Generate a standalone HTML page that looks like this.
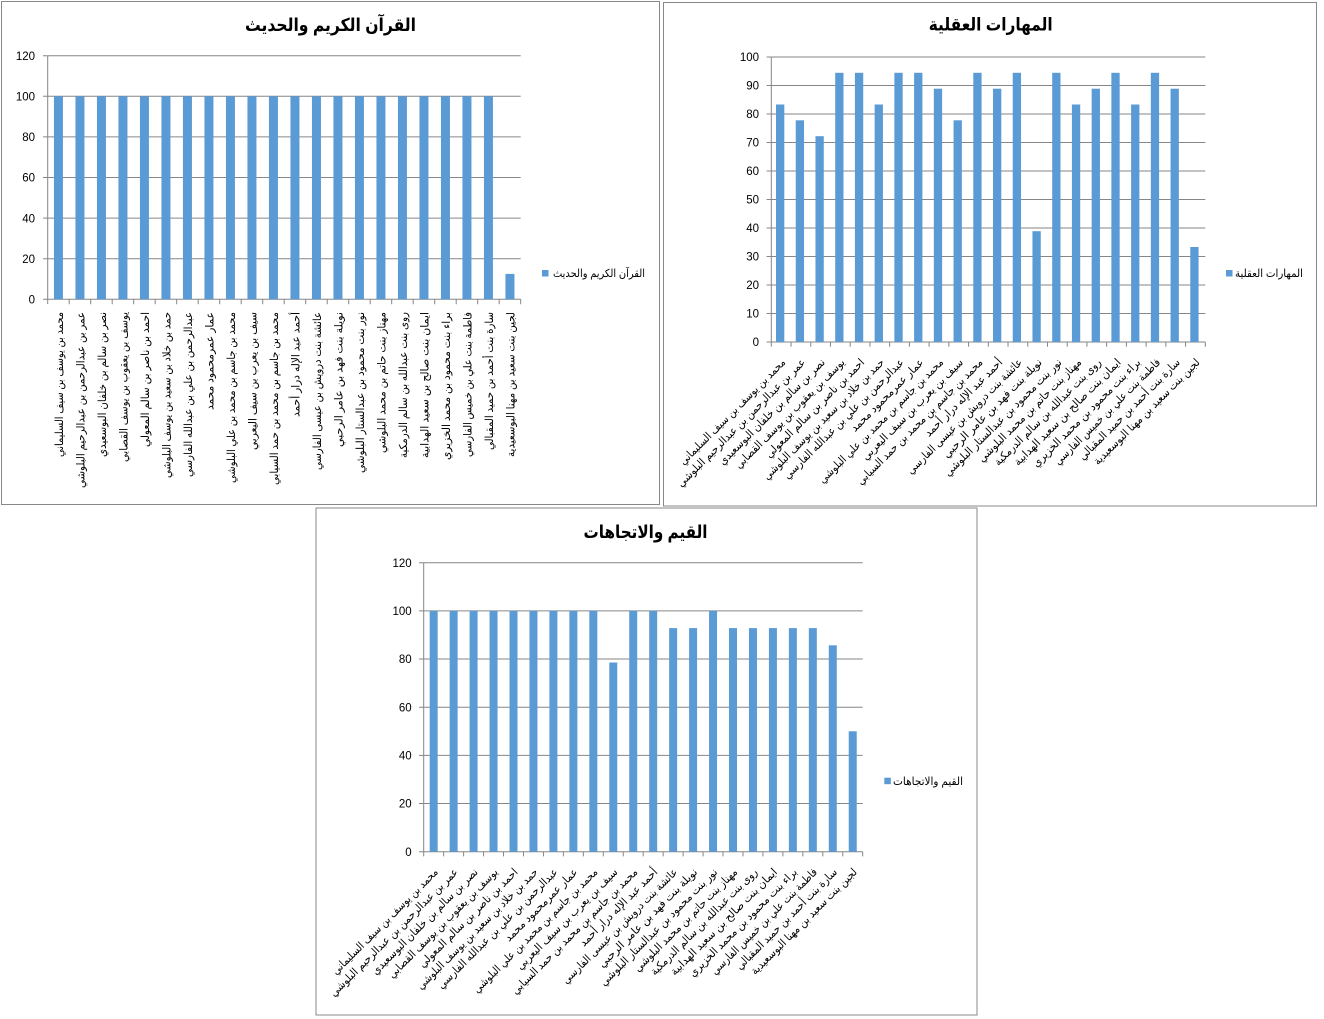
<!DOCTYPE html>
<html><head><meta charset="utf-8">
<style>
html,body{margin:0;padding:0;background:#fff;}
svg{display:block;}
.t{font-family:"Liberation Sans","DejaVu Sans",sans-serif;font-size:11.5px;fill:#000;}
.l{font-family:"Liberation Sans","DejaVu Sans",sans-serif;font-size:11px;fill:#000;}
.h{font-family:"Liberation Sans","DejaVu Sans",sans-serif;font-size:18px;font-weight:bold;fill:#000;}
</style></head>
<body>
<svg width="1324" height="1019" viewBox="0 0 1324 1019" xmlns="http://www.w3.org/2000/svg" direction="ltr">
<rect x="0" y="0" width="1324" height="1019" fill="#fff"/>

<!-- ============ CHART 1 ============ -->
<rect x="1.5" y="1.5" width="658" height="503" fill="#fff" stroke="#888" stroke-width="1"/>
<text class="h" x="330.5" y="31" text-anchor="middle" textLength="171" lengthAdjust="spacingAndGlyphs">القرآن الكريم والحديث</text>
<g stroke="#868686" stroke-width="1">
<path d="M47.7 299.3H520.7M47.7 258.7H520.7M47.7 218.1H520.7M47.7 177.5H520.7M47.7 136.9H520.7M47.7 96.3H520.7M47.7 55.7H520.7"/>
<path d="M47.7 55.7V304M43 299.3H47.7M43 258.7H47.7M43 218.1H47.7M43 177.5H47.7M43 136.9H47.7M43 96.3H47.7M43 55.7H47.7"/>
<path d="M69.2 299.3v5M90.7 299.3v5M112.2 299.3v5M133.7 299.3v5M155.2 299.3v5M176.7 299.3v5M198.2 299.3v5M219.7 299.3v5M241.2 299.3v5M262.7 299.3v5M284.2 299.3v5M305.7 299.3v5M327.2 299.3v5M348.7 299.3v5M370.2 299.3v5M391.7 299.3v5M413.2 299.3v5M434.7 299.3v5M456.2 299.3v5M477.7 299.3v5M499.2 299.3v5M520.7 299.3v5"/>
</g>
<g class="t" text-anchor="end">
<text x="35" y="303.5">0</text><text x="35" y="262.9">20</text><text x="35" y="222.3">40</text><text x="35" y="181.7">60</text><text x="35" y="141.1">80</text><text x="35" y="100.5">100</text><text x="35" y="59.9">120</text>
</g>
<g fill="#5B9BD5">
<rect x="53.95" y="96.3" width="9" height="203"/><rect x="75.45" y="96.3" width="9" height="203"/><rect x="96.95" y="96.3" width="9" height="203"/><rect x="118.45" y="96.3" width="9" height="203"/><rect x="139.95" y="96.3" width="9" height="203"/><rect x="161.45" y="96.3" width="9" height="203"/><rect x="182.95" y="96.3" width="9" height="203"/><rect x="204.45" y="96.3" width="9" height="203"/><rect x="225.95" y="96.3" width="9" height="203"/><rect x="247.45" y="96.3" width="9" height="203"/><rect x="268.95" y="96.3" width="9" height="203"/><rect x="290.45" y="96.3" width="9" height="203"/><rect x="311.95" y="96.3" width="9" height="203"/><rect x="333.45" y="96.3" width="9" height="203"/><rect x="354.95" y="96.3" width="9" height="203"/><rect x="376.45" y="96.3" width="9" height="203"/><rect x="397.95" y="96.3" width="9" height="203"/><rect x="419.45" y="96.3" width="9" height="203"/><rect x="440.95" y="96.3" width="9" height="203"/><rect x="462.45" y="96.3" width="9" height="203"/><rect x="483.95" y="96.3" width="9" height="203"/><rect x="505.45" y="273.9" width="9" height="25.4"/>
</g>
<rect x="542" y="270" width="6.5" height="6.5" fill="#5B9BD5"/>
<text class="l" x="645" y="277" text-anchor="end" textLength="92" lengthAdjust="spacingAndGlyphs">القرآن الكريم والحديث</text>
<g class="l" text-anchor="end">
<text x="62.95" y="312" transform="rotate(-90 62.95 312)" textLength="145" lengthAdjust="spacingAndGlyphs">محمد بن يوسف بن سيف  السليماني</text>
<text x="84.45" y="312" transform="rotate(-90 84.45 312)" textLength="176" lengthAdjust="spacingAndGlyphs">عمر بن عبدالرحمن بن عبدالرحيم البلوشي</text>
<text x="105.95" y="312" transform="rotate(-90 105.95 312)" textLength="145" lengthAdjust="spacingAndGlyphs">نصر بن سالم بن خلفان البوسعيدي</text>
<text x="127.45" y="312" transform="rotate(-90 127.45 312)" textLength="150" lengthAdjust="spacingAndGlyphs">يوسف بن يعقوب بن يوسف القصابي</text>
<text x="148.95" y="312" transform="rotate(-90 148.95 312)" textLength="135" lengthAdjust="spacingAndGlyphs">احمد بن ناصر بن سالم المعولي</text>
<text x="170.45" y="312" transform="rotate(-90 170.45 312)" textLength="166" lengthAdjust="spacingAndGlyphs">حمد بن خلاد بن سعيد بن يوسف البلوشي</text>
<text x="191.95" y="312" transform="rotate(-90 191.95 312)" textLength="165" lengthAdjust="spacingAndGlyphs">عبدالرحمن بن علي بن عبدالله  الفارسي</text>
<text x="213.45" y="312" transform="rotate(-90 213.45 312)" textLength="98" lengthAdjust="spacingAndGlyphs">عمار عمرمحمود محمد</text>
<text x="234.95" y="312" transform="rotate(-90 234.95 312)" textLength="171" lengthAdjust="spacingAndGlyphs">محمد بن جاسم بن محمد بن علي البلوشي</text>
<text x="256.45" y="312" transform="rotate(-90 256.45 312)" textLength="138" lengthAdjust="spacingAndGlyphs">سيف بن يعرب بن سيف اليعربي</text>
<text x="277.95" y="312" transform="rotate(-90 277.95 312)" textLength="173" lengthAdjust="spacingAndGlyphs">محمد بن جاسم بن محمد بن حمد  السيابي</text>
<text x="299.45" y="312" transform="rotate(-90 299.45 312)" textLength="105" lengthAdjust="spacingAndGlyphs">أحمد عبد الإله درار أحمد</text>
<text x="320.95" y="312" transform="rotate(-90 320.95 312)" textLength="158" lengthAdjust="spacingAndGlyphs">عائشة بنت درويش بن عيسى الفارسي</text>
<text x="342.45" y="312" transform="rotate(-90 342.45 312)" textLength="135" lengthAdjust="spacingAndGlyphs">نويلة بنت فهد بن عامر الرحبي</text>
<text x="363.95" y="312" transform="rotate(-90 363.95 312)" textLength="161" lengthAdjust="spacingAndGlyphs">نور بنت محمود بن عبدالستار البلوشي</text>
<text x="385.45" y="312" transform="rotate(-90 385.45 312)" textLength="141" lengthAdjust="spacingAndGlyphs">مهناز بنت حاتم بن محمد البلوشي</text>
<text x="406.95" y="312" transform="rotate(-90 406.95 312)" textLength="146" lengthAdjust="spacingAndGlyphs">روى بنت عبدالله بن سالم الدرمكية</text>
<text x="428.45" y="312" transform="rotate(-90 428.45 312)" textLength="146" lengthAdjust="spacingAndGlyphs">ايمان بنت صالح بن سعيد الهدابية</text>
<text x="449.95" y="312" transform="rotate(-90 449.95 312)" textLength="148" lengthAdjust="spacingAndGlyphs">براء بنت محمود بن محمد الخزيري</text>
<text x="471.45" y="312" transform="rotate(-90 471.45 312)" textLength="145" lengthAdjust="spacingAndGlyphs">فاطمة بنت علي بن خميس الفارسي</text>
<text x="492.95" y="312" transform="rotate(-90 492.95 312)" textLength="138" lengthAdjust="spacingAndGlyphs">سارة بنت أحمد بن حميد المقبالي</text>
<text x="514.45" y="312" transform="rotate(-90 514.45 312)" textLength="145" lengthAdjust="spacingAndGlyphs">لجين بنت سعيد بن مهنا البوسعيدية</text>
</g>

<!-- ============ CHART 2 ============ -->
<rect x="663.5" y="2.5" width="653" height="503.5" fill="#fff" stroke="#888" stroke-width="1"/>
<text class="h" x="990.7" y="30.5" text-anchor="middle" textLength="124" lengthAdjust="spacingAndGlyphs">المهارات العقلية</text>
<g stroke="#868686" stroke-width="1">
<path d="M771.3 342H1205.3M771.3 313.5H1205.3M771.3 285H1205.3M771.3 256.5H1205.3M771.3 228H1205.3M771.3 199.5H1205.3M771.3 171H1205.3M771.3 142.5H1205.3M771.3 114H1205.3M771.3 85.5H1205.3M771.3 57H1205.3"/>
<path d="M771.3 57V346.7M766.6 342H771.3M766.6 313.5H771.3M766.6 285H771.3M766.6 256.5H771.3M766.6 228H771.3M766.6 199.5H771.3M766.6 171H771.3M766.6 142.5H771.3M766.6 114H771.3M766.6 85.5H771.3M766.6 57H771.3"/>
<path d="M791.03 342v4.7M810.75 342v4.7M830.48 342v4.7M850.21 342v4.7M869.94 342v4.7M889.66 342v4.7M909.39 342v4.7M929.12 342v4.7M948.84 342v4.7M968.57 342v4.7M988.3 342v4.7M1008.02 342v4.7M1027.75 342v4.7M1047.48 342v4.7M1067.21 342v4.7M1086.93 342v4.7M1106.66 342v4.7M1126.39 342v4.7M1146.11 342v4.7M1165.84 342v4.7M1185.57 342v4.7M1205.3 342v4.7"/>
</g>
<g class="t" text-anchor="end">
<text x="759" y="346.2">0</text><text x="759" y="317.7">10</text><text x="759" y="289.2">20</text><text x="759" y="260.7">30</text><text x="759" y="232.2">40</text><text x="759" y="203.7">50</text><text x="759" y="175.2">60</text><text x="759" y="146.7">70</text><text x="759" y="118.2">80</text><text x="759" y="89.7">90</text><text x="759" y="61.2">100</text>
</g>
<g fill="#5B9BD5">
<rect x="776.01" y="104.5" width="8.3" height="237.5"/>
<rect x="795.74" y="120.3" width="8.3" height="221.7"/>
<rect x="815.47" y="136.2" width="8.3" height="205.8"/>
<rect x="835.19" y="72.8" width="8.3" height="269.2"/>
<rect x="854.92" y="72.8" width="8.3" height="269.2"/>
<rect x="874.65" y="104.5" width="8.3" height="237.5"/>
<rect x="894.37" y="72.8" width="8.3" height="269.2"/>
<rect x="914.1" y="72.8" width="8.3" height="269.2"/>
<rect x="933.83" y="88.7" width="8.3" height="253.3"/>
<rect x="953.55" y="120.3" width="8.3" height="221.7"/>
<rect x="973.28" y="72.8" width="8.3" height="269.2"/>
<rect x="993.01" y="88.7" width="8.3" height="253.3"/>
<rect x="1012.73" y="72.8" width="8.3" height="269.2"/>
<rect x="1032.46" y="231.2" width="8.3" height="110.8"/>
<rect x="1052.19" y="72.8" width="8.3" height="269.2"/>
<rect x="1071.91" y="104.5" width="8.3" height="237.5"/>
<rect x="1091.64" y="88.7" width="8.3" height="253.3"/>
<rect x="1111.37" y="72.8" width="8.3" height="269.2"/>
<rect x="1131.09" y="104.5" width="8.3" height="237.5"/>
<rect x="1150.82" y="72.8" width="8.3" height="269.2"/>
<rect x="1170.55" y="88.7" width="8.3" height="253.3"/>
<rect x="1190.27" y="247" width="8.3" height="95"/>
</g>
<rect x="1226" y="270" width="6.5" height="6.5" fill="#5B9BD5"/>
<text class="l" x="1303" y="277" text-anchor="end" textLength="68" lengthAdjust="spacingAndGlyphs">المهارات العقلية</text>
<g class="l" text-anchor="end">
<text x="786.16" y="363" transform="rotate(-45 786.16 363)" textLength="145" lengthAdjust="spacingAndGlyphs">محمد بن يوسف بن سيف  السليماني</text>
<text x="805.89" y="363" transform="rotate(-45 805.89 363)" textLength="176" lengthAdjust="spacingAndGlyphs">عمر بن عبدالرحمن بن عبدالرحيم البلوشي</text>
<text x="825.62" y="363" transform="rotate(-45 825.62 363)" textLength="145" lengthAdjust="spacingAndGlyphs">نصر بن سالم بن خلفان البوسعيدي</text>
<text x="845.34" y="363" transform="rotate(-45 845.34 363)" textLength="150" lengthAdjust="spacingAndGlyphs">يوسف بن يعقوب بن يوسف القصابي</text>
<text x="865.07" y="363" transform="rotate(-45 865.07 363)" textLength="135" lengthAdjust="spacingAndGlyphs">احمد بن ناصر بن سالم المعولي</text>
<text x="884.8" y="363" transform="rotate(-45 884.8 363)" textLength="166" lengthAdjust="spacingAndGlyphs">حمد بن خلاد بن سعيد بن يوسف البلوشي</text>
<text x="904.52" y="363" transform="rotate(-45 904.52 363)" textLength="165" lengthAdjust="spacingAndGlyphs">عبدالرحمن بن علي بن عبدالله  الفارسي</text>
<text x="924.25" y="363" transform="rotate(-45 924.25 363)" textLength="98" lengthAdjust="spacingAndGlyphs">عمار عمرمحمود محمد</text>
<text x="943.98" y="363" transform="rotate(-45 943.98 363)" textLength="171" lengthAdjust="spacingAndGlyphs">محمد بن جاسم بن محمد بن علي البلوشي</text>
<text x="963.7" y="363" transform="rotate(-45 963.7 363)" textLength="138" lengthAdjust="spacingAndGlyphs">سيف بن يعرب بن سيف اليعربي</text>
<text x="983.43" y="363" transform="rotate(-45 983.43 363)" textLength="173" lengthAdjust="spacingAndGlyphs">محمد بن جاسم بن محمد بن حمد  السيابي</text>
<text x="1003.16" y="363" transform="rotate(-45 1003.16 363)" textLength="105" lengthAdjust="spacingAndGlyphs">أحمد عبد الإله درار أحمد</text>
<text x="1022.88" y="363" transform="rotate(-45 1022.88 363)" textLength="158" lengthAdjust="spacingAndGlyphs">عائشة بنت درويش بن عيسى الفارسي</text>
<text x="1042.61" y="363" transform="rotate(-45 1042.61 363)" textLength="135" lengthAdjust="spacingAndGlyphs">نويلة بنت فهد بن عامر الرحبي</text>
<text x="1062.34" y="363" transform="rotate(-45 1062.34 363)" textLength="161" lengthAdjust="spacingAndGlyphs">نور بنت محمود بن عبدالستار البلوشي</text>
<text x="1082.06" y="363" transform="rotate(-45 1082.06 363)" textLength="141" lengthAdjust="spacingAndGlyphs">مهناز بنت حاتم بن محمد البلوشي</text>
<text x="1101.79" y="363" transform="rotate(-45 1101.79 363)" textLength="146" lengthAdjust="spacingAndGlyphs">روى بنت عبدالله بن سالم الدرمكية</text>
<text x="1121.52" y="363" transform="rotate(-45 1121.52 363)" textLength="146" lengthAdjust="spacingAndGlyphs">ايمان بنت صالح بن سعيد الهدابية</text>
<text x="1141.24" y="363" transform="rotate(-45 1141.24 363)" textLength="148" lengthAdjust="spacingAndGlyphs">براء بنت محمود بن محمد الخزيري</text>
<text x="1160.97" y="363" transform="rotate(-45 1160.97 363)" textLength="145" lengthAdjust="spacingAndGlyphs">فاطمة بنت علي بن خميس الفارسي</text>
<text x="1180.7" y="363" transform="rotate(-45 1180.7 363)" textLength="138" lengthAdjust="spacingAndGlyphs">سارة بنت أحمد بن حميد المقبالي</text>
<text x="1200.42" y="363" transform="rotate(-45 1200.42 363)" textLength="145" lengthAdjust="spacingAndGlyphs">لجين بنت سعيد بن مهنا البوسعيدية</text>
</g>

<!-- ============ CHART 3 ============ -->
<rect x="316" y="508" width="661" height="507" fill="#fff" stroke="#888" stroke-width="1"/>
<text class="h" x="645.5" y="538" text-anchor="middle" textLength="124" lengthAdjust="spacingAndGlyphs">القيم والاتجاهات</text>
<g stroke="#868686" stroke-width="1">
<path d="M423.7 851.7H862.7M423.7 803.53H862.7M423.7 755.37H862.7M423.7 707.2H862.7M423.7 659.03H862.7M423.7 610.87H862.7M423.7 562.7H862.7"/>
<path d="M423.7 562.7V856.4M419 851.7H423.7M419 803.53H423.7M419 755.37H423.7M419 707.2H423.7M419 659.03H423.7M419 610.87H423.7M419 562.7H423.7"/>
<path d="M443.66 851.7v4.7M463.61 851.7v4.7M483.57 851.7v4.7M503.52 851.7v4.7M523.48 851.7v4.7M543.43 851.7v4.7M563.39 851.7v4.7M583.34 851.7v4.7M603.3 851.7v4.7M623.25 851.7v4.7M643.21 851.7v4.7M663.16 851.7v4.7M683.12 851.7v4.7M703.07 851.7v4.7M723.03 851.7v4.7M742.98 851.7v4.7M762.94 851.7v4.7M782.89 851.7v4.7M802.85 851.7v4.7M822.8 851.7v4.7M842.76 851.7v4.7M862.71 851.7v4.7"/>
</g>
<g class="t" text-anchor="end">
<text x="411.7" y="855.9">0</text><text x="411.7" y="807.7">20</text><text x="411.7" y="759.6">40</text><text x="411.7" y="711.4">60</text><text x="411.7" y="663.2">80</text><text x="411.7" y="615.1">100</text><text x="411.7" y="566.9">120</text>
</g>
<g fill="#5B9BD5">
<rect x="429.68" y="610.87" width="8" height="240.83"/>
<rect x="449.63" y="610.87" width="8" height="240.83"/>
<rect x="469.59" y="610.87" width="8" height="240.83"/>
<rect x="489.54" y="610.87" width="8" height="240.83"/>
<rect x="509.5" y="610.87" width="8" height="240.83"/>
<rect x="529.46" y="610.87" width="8" height="240.83"/>
<rect x="549.41" y="610.87" width="8" height="240.83"/>
<rect x="569.37" y="610.87" width="8" height="240.83"/>
<rect x="589.32" y="610.87" width="8" height="240.83"/>
<rect x="609.27" y="662.5" width="8" height="189.2"/>
<rect x="629.23" y="610.87" width="8" height="240.83"/>
<rect x="649.18" y="610.87" width="8" height="240.83"/>
<rect x="669.14" y="628.1" width="8" height="223.6"/>
<rect x="689.09" y="628.1" width="8" height="223.6"/>
<rect x="709.05" y="610.87" width="8" height="240.83"/>
<rect x="729.01" y="628.1" width="8" height="223.6"/>
<rect x="748.96" y="628.1" width="8" height="223.6"/>
<rect x="768.92" y="628.1" width="8" height="223.6"/>
<rect x="788.87" y="628.1" width="8" height="223.6"/>
<rect x="808.83" y="628.1" width="8" height="223.6"/>
<rect x="828.78" y="645.3" width="8" height="206.4"/>
<rect x="848.73" y="731.3" width="8" height="120.4"/>
</g>
<rect x="884.3" y="777.7" width="6.5" height="6.5" fill="#5B9BD5"/>
<text class="l" x="963" y="785" text-anchor="end" textLength="70" lengthAdjust="spacingAndGlyphs">القيم والاتجاهات</text>
<g class="l" text-anchor="end">
<text x="438.68" y="872.7" transform="rotate(-45 438.68 872.7)" textLength="145" lengthAdjust="spacingAndGlyphs">محمد بن يوسف بن سيف  السليماني</text>
<text x="458.63" y="872.7" transform="rotate(-45 458.63 872.7)" textLength="176" lengthAdjust="spacingAndGlyphs">عمر بن عبدالرحمن بن عبدالرحيم البلوشي</text>
<text x="478.59" y="872.7" transform="rotate(-45 478.59 872.7)" textLength="145" lengthAdjust="spacingAndGlyphs">نصر بن سالم بن خلفان البوسعيدي</text>
<text x="498.54" y="872.7" transform="rotate(-45 498.54 872.7)" textLength="150" lengthAdjust="spacingAndGlyphs">يوسف بن يعقوب بن يوسف القصابي</text>
<text x="518.5" y="872.7" transform="rotate(-45 518.5 872.7)" textLength="135" lengthAdjust="spacingAndGlyphs">احمد بن ناصر بن سالم المعولي</text>
<text x="538.46" y="872.7" transform="rotate(-45 538.46 872.7)" textLength="166" lengthAdjust="spacingAndGlyphs">حمد بن خلاد بن سعيد بن يوسف البلوشي</text>
<text x="558.41" y="872.7" transform="rotate(-45 558.41 872.7)" textLength="165" lengthAdjust="spacingAndGlyphs">عبدالرحمن بن علي بن عبدالله  الفارسي</text>
<text x="578.37" y="872.7" transform="rotate(-45 578.37 872.7)" textLength="98" lengthAdjust="spacingAndGlyphs">عمار عمرمحمود محمد</text>
<text x="598.32" y="872.7" transform="rotate(-45 598.32 872.7)" textLength="171" lengthAdjust="spacingAndGlyphs">محمد بن جاسم بن محمد بن علي البلوشي</text>
<text x="618.27" y="872.7" transform="rotate(-45 618.27 872.7)" textLength="138" lengthAdjust="spacingAndGlyphs">سيف بن يعرب بن سيف اليعربي</text>
<text x="638.23" y="872.7" transform="rotate(-45 638.23 872.7)" textLength="173" lengthAdjust="spacingAndGlyphs">محمد بن جاسم بن محمد بن حمد  السيابي</text>
<text x="658.18" y="872.7" transform="rotate(-45 658.18 872.7)" textLength="105" lengthAdjust="spacingAndGlyphs">أحمد عبد الإله درار أحمد</text>
<text x="678.14" y="872.7" transform="rotate(-45 678.14 872.7)" textLength="158" lengthAdjust="spacingAndGlyphs">عائشة بنت درويش بن عيسى الفارسي</text>
<text x="698.09" y="872.7" transform="rotate(-45 698.09 872.7)" textLength="135" lengthAdjust="spacingAndGlyphs">نويلة بنت فهد بن عامر الرحبي</text>
<text x="718.05" y="872.7" transform="rotate(-45 718.05 872.7)" textLength="161" lengthAdjust="spacingAndGlyphs">نور بنت محمود بن عبدالستار البلوشي</text>
<text x="738.01" y="872.7" transform="rotate(-45 738.01 872.7)" textLength="141" lengthAdjust="spacingAndGlyphs">مهناز بنت حاتم بن محمد البلوشي</text>
<text x="757.96" y="872.7" transform="rotate(-45 757.96 872.7)" textLength="146" lengthAdjust="spacingAndGlyphs">روى بنت عبدالله بن سالم الدرمكية</text>
<text x="777.92" y="872.7" transform="rotate(-45 777.92 872.7)" textLength="146" lengthAdjust="spacingAndGlyphs">ايمان بنت صالح بن سعيد الهدابية</text>
<text x="797.87" y="872.7" transform="rotate(-45 797.87 872.7)" textLength="148" lengthAdjust="spacingAndGlyphs">براء بنت محمود بن محمد الخزيري</text>
<text x="817.83" y="872.7" transform="rotate(-45 817.83 872.7)" textLength="145" lengthAdjust="spacingAndGlyphs">فاطمة بنت علي بن خميس الفارسي</text>
<text x="837.78" y="872.7" transform="rotate(-45 837.78 872.7)" textLength="138" lengthAdjust="spacingAndGlyphs">سارة بنت أحمد بن حميد المقبالي</text>
<text x="857.73" y="872.7" transform="rotate(-45 857.73 872.7)" textLength="145" lengthAdjust="spacingAndGlyphs">لجين بنت سعيد بن مهنا البوسعيدية</text>
</g>
</svg>
</body></html>
